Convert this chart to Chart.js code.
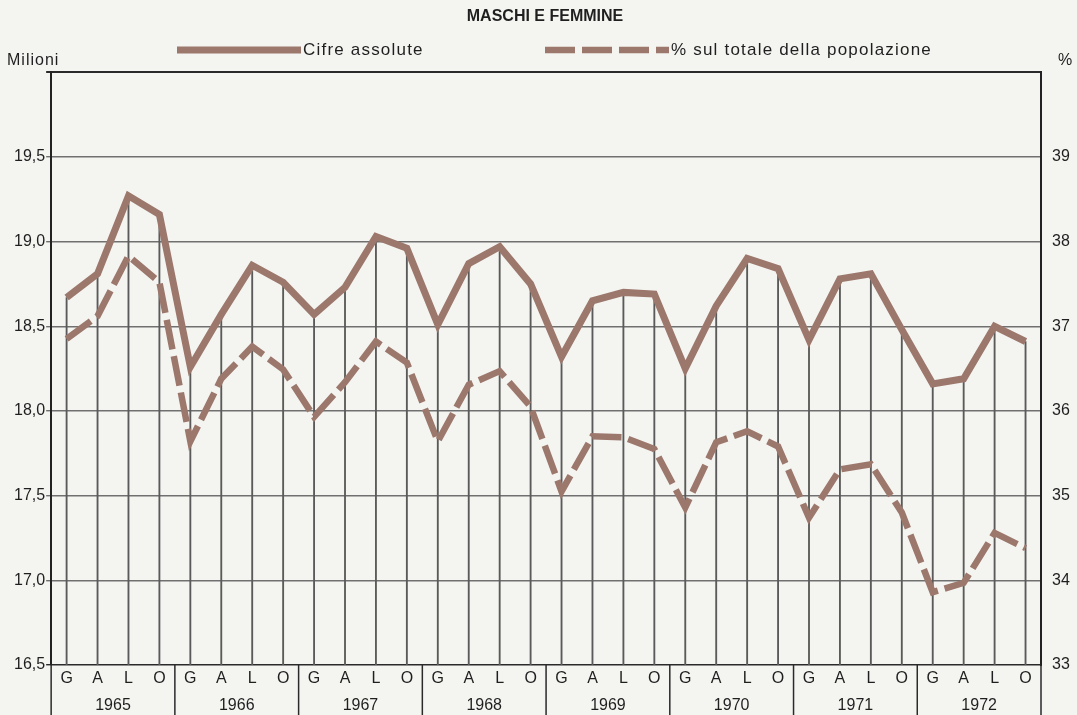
<!DOCTYPE html>
<html>
<head>
<meta charset="utf-8">
<script src="https://cdn.jsdelivr.net/npm/chart.js@4.4.1/dist/chart.umd.min.js"></script>
<style>
  html, body { margin: 0; padding: 0; background: #f4f4f1; }
  #wrap { width: 1077px; height: 715px; }
</style>
</head>
<body>
<div id="wrap"><canvas id="chart"></canvas></div>
<script>
// years and quarters (G = gennaio, A = aprile, L = luglio, O = ottobre)
const years = ['1965', '1966', '1967', '1968', '1969', '1970', '1971', '1972'];
const quarters = ['G', 'A', 'L', 'O'];
const quarterLabels = years.flatMap(() => quarters);

// Cifre assolute (milioni), one value per quarter
const absolute = [
    18.67, 18.81, 19.27, 19.16,
    18.26, 18.57, 18.86, 18.76,
    18.57, 18.73, 19.03, 18.96,
    18.51, 18.87, 18.97, 18.75,
    18.32, 18.65, 18.70, 18.69,
    18.25, 18.62, 18.90, 18.84,
    18.42, 18.78, 18.81, 18.48,
    18.16, 18.19, 18.50, 18.41
];

// % sul totale della popolazione
const percent = [
    36.85, 37.12, 37.83, 37.52,
    35.64, 36.38, 36.76, 36.49,
    35.93, 36.34, 36.82, 36.57,
    35.64, 36.31, 36.47, 36.05,
    35.05, 35.70, 35.69, 35.55,
    34.86, 35.63, 35.76, 35.58,
    34.74, 35.31, 35.37, 34.80,
    33.86, 33.97, 34.56, 34.38
];

const ink = '#1f1f1f';
const lineColor = '#9c776c';
const family = "Arial, 'Liberation Sans', sans-serif";

// legend row and unit labels above the plot
const legendRow = {
    id: 'legendRow',
    afterDraw(chart, args, opts) {
        const ctx = chart.ctx;
        const area = chart.chartArea;
        ctx.save();
        ctx.fillStyle = ink;
        ctx.font = '16px ' + family;
        ctx.letterSpacing = '1px';
        ctx.textBaseline = 'alphabetic';
        ctx.fillText(opts.leftUnit, 7, area.top - 7);
        ctx.fillText(opts.rightUnit, area.right + 17, area.top - 7);

        ctx.font = '17px ' + family;
        ctx.letterSpacing = '1.2px';
        ctx.textBaseline = 'middle';
        chart.data.datasets.forEach((ds, i) => {
            const x = opts.itemX[i];
            if (x === undefined) return;
            ctx.beginPath();
            ctx.setLineDash(ds.borderDash || []);
            ctx.lineWidth = ds.borderWidth;
            ctx.strokeStyle = ds.borderColor;
            ctx.moveTo(x, opts.y);
            ctx.lineTo(x + opts.sampleWidth, opts.y);
            ctx.stroke();
            ctx.setLineDash([]);
            ctx.fillText(ds.label, x + opts.sampleWidth + 2, opts.y);
        });
        ctx.restore();
    }
};

// vertical dividers between the year boxes under the plot
const yearDividers = {
    id: 'yearDividers',
    afterDraw(chart) {
        const s = chart.scales.x2;
        const ctx = chart.ctx;
        ctx.save();
        ctx.strokeStyle = '#2a2a2a';
        ctx.lineWidth = 1.5;
        for (let i = 0; i <= years.length; i++) {
            const px = s.getPixelForValue(i - 0.5);
            ctx.beginPath();
            ctx.moveTo(px, chart.chartArea.bottom);
            ctx.lineTo(px, chart.height);
            ctx.stroke();
        }
        ctx.restore();
    }
};

const config = {
    type: 'line',
    data: {
        labels: quarterLabels,
        datasets: [
            {
                label: 'Cifre assolute',
                data: absolute,
                yAxisID: 'y',
                borderColor: lineColor,
                borderWidth: 7,
                borderJoinStyle: 'miter',
                pointRadius: 0,
                tension: 0,
                order: 1
            },
            {
                label: '% sul totale della popolazione',
                data: percent,
                yAxisID: 'y1',
                borderColor: lineColor,
                borderWidth: 6.5,
                borderDash: [30, 7],
                borderJoinStyle: 'miter',
                pointRadius: 0,
                tension: 0,
                order: 2
            },
            {
                // thin drop lines from the absolute values down to the axis
                type: 'bar',
                label: 'drop',
                data: absolute,
                yAxisID: 'y',
                backgroundColor: '#5a5a5a',
                barThickness: 1.2,
                order: 10
            }
        ]
    },
    plugins: [legendRow, yearDividers],
    options: {
        responsive: true,
        maintainAspectRatio: false,
        animation: false,
        layout: { padding: { left: 13, right: 0, top: 0, bottom: 0 } },
        plugins: {
            legend: { display: false },
            tooltip: { enabled: false },
            title: {
                display: true,
                text: 'MASCHI E FEMMINE',
                color: ink,
                font: { family: family, size: 16, weight: 'bold' },
                padding: { top: 7, bottom: 46 }
            },
            legendRow: {
                itemX: [177, 545],
                sampleWidth: 124,
                y: 50,
                leftUnit: 'Milioni',
                rightUnit: '%'
            }
        },
        scales: {
            x: {
                type: 'category',
                offset: true,
                weight: 0,
                afterFit: s => { s.height = 26; },
                grid: { offset: true, drawOnChartArea: false, drawTicks: false },
                border: { display: false },
                ticks: {
                    padding: 4,
                    autoSkip: false,
                    maxRotation: 0,
                    color: ink,
                    font: { family: family, size: 16 }
                }
            },
            x2: {
                type: 'category',
                labels: years,
                offset: true,
                weight: 1,
                afterFit: s => { s.height = 24; },
                grid: { display: false, drawTicks: false },
                border: { display: false },
                ticks: {
                    padding: 4.5,
                    color: ink,
                    font: { family: family, size: 16 }
                }
            },
            y: {
                min: 16.5,
                max: 20,
                grid: {
                    color: c => (c.tick && (c.tick.value === 20 || c.tick.value === 16.5)) ? '#2a2a2a' : '#707070',
                    lineWidth: c => (c.tick && c.tick.value === 20) ? 2 : 1.4,
                    tickLength: 5
                },
                border: { color: '#222', width: 2 },
                ticks: {
                    stepSize: 0.5,
                    padding: 1,
                    color: ink,
                    font: { family: family, size: 16 },
                    callback: v => v === 20 ? '' : v.toFixed(1).replace('.', ',')
                }
            },
            y1: {
                position: 'right',
                min: 33,
                max: 40,
                grid: { drawOnChartArea: false, drawTicks: false },
                border: { color: '#222', width: 2 },
                afterFit: s => { s.width = 36; },
                ticks: {
                    stepSize: 1,
                    padding: 11,
                    color: ink,
                    font: { family: family, size: 16 },
                    callback: v => v === 40 ? '' : String(v)
                }
            }
        }
    }
};

new Chart(document.getElementById('chart').getContext('2d'), config);
</script>
</body>
</html>
